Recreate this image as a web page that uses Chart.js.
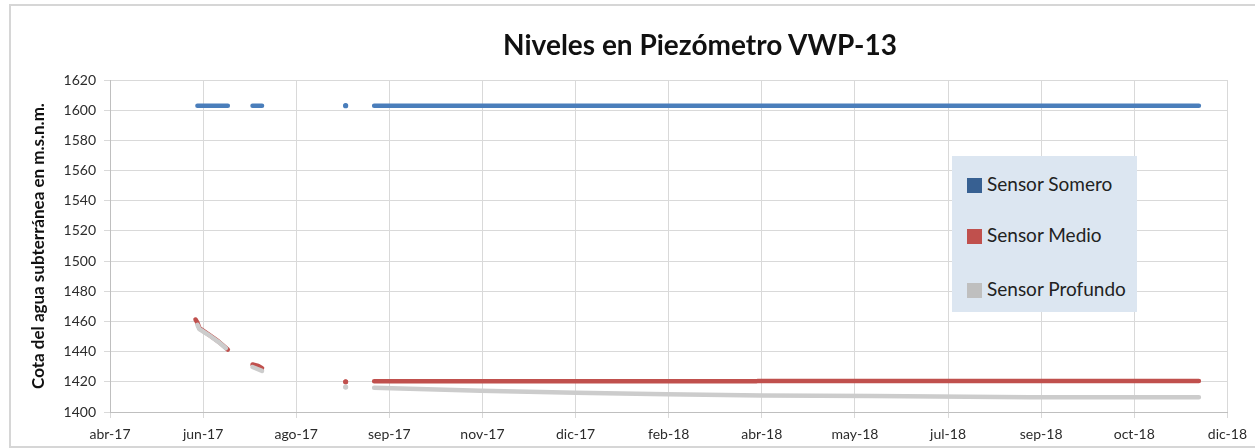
<!DOCTYPE html>
<html>
<head>
<meta charset="utf-8">
<script src="https://cdn.jsdelivr.net/npm/chart.js@4/dist/chart.umd.min.js"></script>
<style>
  html, body { margin: 0; padding: 0; background: #fff; }
  #wrap { position: relative; width: 1255px; height: 448px; overflow: hidden; font-family: Lato, sans-serif; }
  #frame { position: absolute; left: 9px; top: 4px; width: 1300px; height: 440px; border: 2px solid #d6d6d6; }
  #chartCanvas { position: absolute; left: 0; top: 0; }
  #title { position: absolute; left: 450px; width: 500px; top: 27px; text-align: center; font-weight: bold; font-size: 28px; color: #111; }
  #legend { position: absolute; left: 952px; top: 156px; width: 185px; height: 156px; background: #dce6f1; }
  .item { position: absolute; left: 15px; font-size: 19px; color: #222; line-height: 20px; white-space: nowrap; }
  .item span { display: inline-block; width: 15px; height: 15px; margin-right: 5px; vertical-align: -2px; }
</style>
</head>
<body>
<div id="wrap">
  <div id="frame"></div>
  <canvas id="chartCanvas" width="1255" height="448"></canvas>
  <div id="title">Niveles en Piezómetro VWP-13</div>
  <div id="legend"></div>
</div>
<script>
// valores (null = sin datos)
const seriesNames = ["Sensor Somero", "Sensor Medio", "Sensor Profundo"];
const legendColors = ["#376092", "#c0504d", "#bfbfbf"];
const lineColors = ["#4a7ebb", "#c0504d", "#cccccc"];

const someroDates = ["2017-06-15", "2017-07-01", "2017-07-07", "2017-07-14", "2017-07-19", "2017-08-20", "2017-09-01", "2017-09-08", "2017-09-16", "2018-11-24"];
const someroValues = [1603, 1603, null, 1603, 1603, null, 1603, null, 1603, 1603];

const medioDates = ["2017-06-14", "2017-06-15", "2017-06-16", "2017-06-21", "2017-06-26", "2017-06-30", "2017-07-01", "2017-07-07", "2017-07-14", "2017-07-17", "2017-07-19", "2017-08-20", "2017-09-01", "2017-09-08", "2017-09-16", "2018-04-05", "2018-04-06", "2018-11-24"];
const medioValues = [1461.3, 1459.2, 1455.6, 1451.3, 1446.8, 1442.5, 1441.3, null, 1431.5, 1430.5, 1429, null, 1420, null, 1420.3, 1420.3, 1420.6, 1420.6];

const profundoDates = ["2017-06-15", "2017-06-16", "2017-06-21", "2017-06-26", "2017-06-30", "2017-07-07", "2017-07-14", "2017-07-19", "2017-08-20", "2017-09-01", "2017-09-08", "2017-09-16", "2017-11-11", "2017-12-31", "2018-02-17", "2018-04-08", "2018-06-06", "2018-08-27", "2018-11-24"];
const profundoValues = [1457.8, 1455, 1451, 1446.5, 1442.3, null, 1429.8, 1427.3, null, 1416.5, null, 1416, 1414, 1412.8, 1411.7, 1411, 1410.6, 1409.8, 1409.7];

// eje x: desde 30-abr-17, marcas cada 49 días
const axisStart = "2017-04-30";
const tickStepDays = 49;
const tickCount = 12;
const monthNames = ["ene", "feb", "mar", "abr", "may", "jun", "jul", "ago", "sep", "oct", "nov", "dic"];

const yMin = 1400, yMax = 1620, yStep = 20;

function utc(s) {
  const [y, m, d] = s.split("-").map(Number);
  return Date.UTC(y, m - 1, d);
}
const t0 = utc(axisStart);
const dayOf = s => (utc(s) - t0) / 864e5;

function toPoints(dates, values) {
  return dates.map((d, i) => ({ x: dayOf(d), y: values[i] }));
}

function isolatedRadius(ctx) {
  const data = ctx.dataset.data;
  const i = ctx.dataIndex;
  const prev = data[i - 1], next = data[i + 1];
  const alone = (!prev || prev.y === null) && (!next || next.y === null);
  return alone ? 2.6 : 0;
}

Chart.defaults.font.family = "Lato, sans-serif";
Chart.defaults.color = "#2b2b2b";

const allDates = [someroDates, medioDates, profundoDates];
const allValues = [someroValues, medioValues, profundoValues];

const datasets = seriesNames.map((name, k) => ({
  label: name,
  data: toPoints(allDates[k], allValues[k]),
  borderColor: lineColors[k],
  backgroundColor: lineColors[k],
  borderWidth: 4.5,
  borderCapStyle: "round",
  borderJoinStyle: "round",
  pointRadius: isolatedRadius,
  pointBorderWidth: 0,
  pointHoverRadius: 0,
  spanGaps: false,
  tension: 0,
  order: 3 - k
}));

const ctx = document.getElementById("chartCanvas").getContext("2d");

new Chart(ctx, {
  type: "line",
  data: { datasets },
  options: {
    responsive: false,
    animation: false,
    layout: { padding: { top: 80, right: 23, bottom: 0, left: 20 } },
    plugins: {
      legend: { display: false },
      tooltip: { enabled: false },
      title: { display: false }
    },
    scales: {
      x: {
        type: "linear",
        min: 0,
        max: tickStepDays * tickCount,
        afterFit: s => { s.height = 36; },
        ticks: {
          stepSize: tickStepDays,
          padding: 8,
          maxRotation: 0,
          autoSkip: false,
          font: { size: 14 },
          callback: v => {
            const d = new Date(t0 + v * 864e5);
            return monthNames[d.getUTCMonth()] + "-" + String(d.getUTCFullYear()).slice(2);
          }
        },
        grid: { color: "#d9d9d9", tickLength: 6, lineWidth: 1 },
        border: { color: "#bfbfbf" }
      },
      y: {
        min: yMin,
        max: yMax,
        afterFit: s => { s.width = 90; },
        ticks: { stepSize: yStep, padding: 8, font: { size: 14 }, callback: v => String(v) },
        grid: { color: "#d9d9d9", tickLength: 6, lineWidth: 1 },
        border: { color: "#bfbfbf" },
        title: {
          display: true,
          text: "Cota del agua subterránea en m.s.n.m.",
          font: { size: 17, weight: "bold" },
          color: "#111",
          padding: { top: 8, bottom: 0 }
        }
      }
    }
  }
});

// leyenda dentro del área del gráfico
const legendTops = [18, 69, 123];
const legendEl = document.getElementById("legend");
seriesNames.forEach((name, k) => {
  const row = document.createElement("div");
  row.className = "item";
  row.style.top = legendTops[k] + "px";
  row.innerHTML = '<span style="background:' + legendColors[k] + '"></span>' + name;
  legendEl.appendChild(row);
});
</script>
</body>
</html>
